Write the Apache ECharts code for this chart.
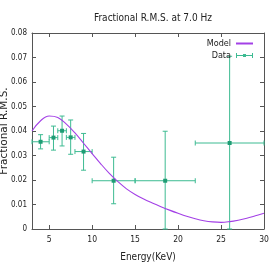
<!DOCTYPE html>
<html><head><meta charset="utf-8">
<script src="https://cdn.jsdelivr.net/npm/echarts@6/dist/echarts.min.js"></script>
<style>html,body{margin:0;padding:0;background:#fff}#c{width:274px;height:262px}</style>
</head><body><div id="c"></div>
<script>
// Model curve
var modelX = [3,4,5,6,7,8,9,10,11,12,13,14,15,16,17,18,19,20,21,22,23,24,25,26,27,28,29,30];
var modelY = [0.0400,0.0442,0.0461,0.0455,0.0428,0.0392,0.0350,0.0308,0.0266,0.0227,0.0193,0.0164,0.0141,0.0122,0.0106,0.0091,0.0077,0.0064,0.0052,0.0042,0.0034,0.0029,0.0027,0.0030,0.0036,0.0044,0.0054,0.0064];
// Data with x/y error bars
var dataX   = [4, 5.5, 6.5, 7.5, 9, 12.5, 18.5, 26];
var dataXLo = [3, 5, 6, 7, 8, 10, 15, 22];
var dataXHi = [5, 6, 7, 8, 10, 15, 22, 30];
var dataY   = [0.0356, 0.0373, 0.0401, 0.0374, 0.0316, 0.0197, 0.0197, 0.0351];
var dataYLo = [0.0327, 0.0322, 0.0339, 0.0305, 0.0240, 0.0103, 0.0, 0.0];
var dataYHi = [0.0385, 0.0420, 0.0461, 0.0445, 0.0390, 0.0293, 0.0399, 0.0705];
var xTicks = [5, 10, 15, 20, 25, 30];

var NARROW = '"Liberation Sans Narrow","DejaVu Sans Condensed","Liberation Sans",sans-serif';
var DCOL = '#3dbb92', DMARK = '#1f9c74', MCOL = '#a340e6', AX = '#555';

var modelData = modelX.map(function(x,i){return [x, modelY[i]];});
var errData = dataX.map(function(x,i){return [x, dataY[i], dataXLo[i], dataXHi[i], dataYLo[i], dataYHi[i]];});

var chart = echarts.init(document.getElementById('c'), null, {renderer:'canvas'});
function xAx(pos, showLabel){
  return {type:'value', position:pos, min:3, max:30,
    axisLine:{show:true, onZero:false, lineStyle:{color:AX, width:1}},
    axisTick:{show:true, inside:true, length:4, customValues:xTicks, lineStyle:{color:AX}},
    axisLabel:{show:showLabel, customValues:xTicks, color:'#222', fontFamily:NARROW, fontSize:8.5, margin:6},
    splitLine:{show:false},
    name: showLabel ? 'Energy(KeV)' : '', nameLocation:'middle', nameGap:23, nameMoveOverlap:false,
    nameTextStyle:{color:'#222', fontFamily:NARROW, fontSize:10}};
}
function yAx(pos, showLabel){
  return {type:'value', position:pos, min:0, max:0.08, interval:0.01,
    axisLine:{show:true, onZero:false, lineStyle:{color:AX, width:1}},
    axisTick:{show:true, inside:true, length:4, lineStyle:{color:AX}},
    axisLabel:{show:showLabel, color:'#222', fontFamily:NARROW, fontSize:8, margin:5,
      formatter:function(v){return v===0?'0':v.toFixed(2);}},
    splitLine:{show:false},
    name: showLabel ? 'Fractional R.M.S.' : '', nameLocation:'middle', nameGap:22, nameRotate:90, nameMoveOverlap:false,
    nameTextStyle:{color:'#222', fontFamily:'"DejaVu Sans",sans-serif', fontSize:10.5}};
}
chart.setOption({
  animation:false,
  title:{text:'Fractional R.M.S. at 7.0 Hz', left:148, top:8, textAlign:'center',
    textStyle:{fontFamily:NARROW, fontSize:10, fontWeight:'normal', color:'#222'}},
  grid:{left:32, right:10, top:33, bottom:33, containLabel:false, outerBoundsMode:'none'},
  legend:{orient:'vertical', right:15, top:34, align:'right', itemWidth:17, itemHeight:7, itemGap:3,
    textStyle:{fontFamily:NARROW, fontSize:9, color:'#222'},
    data:[{name:'Model', itemStyle:{color:'rgba(0,0,0,0)', borderWidth:0}},
          {name:'Data', icon:'path://M0,1h1v5h-1z M1,3h15v1h-15z M16,1h1v5h-1z M7,2h3v3h-3z'}]},
  xAxis:[xAx('bottom', true), xAx('top', false)],
  yAxis:[yAx('left', true), yAx('right', false)],
  series:[
    {name:'Model', type:'line', data:modelData, smooth:0.4, symbol:'none',
      lineStyle:{color:MCOL, width:1.1}, itemStyle:{color:MCOL}, z:3},
    {name:'Data', type:'custom', data:errData, itemStyle:{color:DCOL}, z:2,
      renderItem:function(params, api){
        var c = api.coord([api.value(0), api.value(1)]);
        var xl = api.coord([api.value(2), api.value(1)]);
        var xh = api.coord([api.value(3), api.value(1)]);
        var yl = api.coord([api.value(0), api.value(4)]);
        var yh = api.coord([api.value(0), api.value(5)]);
        var st = {stroke:DCOL, lineWidth:1, fill:null};
        var cap = 2.5;
        return {type:'group', children:[
          {type:'line', shape:{x1:xl[0], y1:c[1], x2:xh[0], y2:c[1]}, style:st},
          {type:'line', shape:{x1:xl[0], y1:c[1]-cap, x2:xl[0], y2:c[1]+cap}, style:st},
          {type:'line', shape:{x1:xh[0], y1:c[1]-cap, x2:xh[0], y2:c[1]+cap}, style:st},
          {type:'line', shape:{x1:c[0], y1:yl[1], x2:c[0], y2:yh[1]}, style:st},
          {type:'line', shape:{x1:c[0]-cap, y1:yl[1], x2:c[0]+cap, y2:yl[1]}, style:st},
          {type:'line', shape:{x1:c[0]-cap, y1:yh[1], x2:c[0]+cap, y2:yh[1]}, style:st},
          {type:'rect', shape:{x:c[0]-2, y:c[1]-2, width:4, height:4}, style:{fill:DMARK, stroke:null}}
        ]};
      }}
  ]
});
</script></body></html>
